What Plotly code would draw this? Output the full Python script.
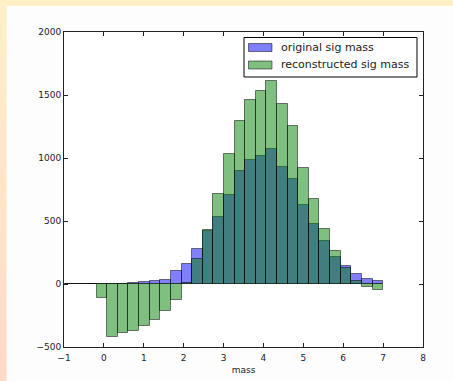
import numpy as np
import plotly.graph_objects as go

# ---- data ----
bin_edges = list(np.linspace(-0.98, 7.0, 31))
original_sig_mass = [1, 1, 1, 0, 0, 0, 5, 18, 26, 34, 103, 161,
                     275, 418, 534, 706, 899, 984, 1019, 1071, 931, 833,
                     624, 476, 344, 217, 140, 79, 42, 24]
reconstructed_sig_mass = [0, 0, 0, -114, -418, -389, -376, -333, -286, -212, -127, 8,
                          198, 429, 714, 1034, 1296, 1460, 1534, 1608, 1429, 1257,
                          921, 675, 437, 259, 124, 26, -21, -48]
series_names = ["original sig mass", "reconstructed sig mass"]
series_colors = ["rgba(0,0,255,0.5)", "rgba(0,128,0,0.5)"]
x_ticks = [-1, 0, 1, 2, 3, 4, 5, 6, 7, 8]
y_ticks = [-500, 0, 500, 1000, 1500, 2000]

centers = [(a + b) / 2 for a, b in zip(bin_edges[:-1], bin_edges[1:])]
widths = [b - a for a, b in zip(bin_edges[:-1], bin_edges[1:])]

W, H = 453, 381
L, R, T, B = 64, 423, 32, 347
EDGE = "rgba(0,0,0,0.5)"

fig = go.Figure()
for vals, name, col in zip([original_sig_mass, reconstructed_sig_mass], series_names, series_colors):
    fig.add_trace(go.Bar(x=centers, y=vals, width=widths, name=name,
                         marker=dict(color=col, line=dict(color=EDGE, width=1))))

def px2x(px):
    return (px - L) / (R - L)

def py2y(py):
    return (B - py) / (B - T)

shapes = []
# top band
shapes.append(dict(type="rect", xref="paper", yref="paper", x0=px2x(0), x1=px2x(W),
                   y0=py2y(6), y1=py2y(0), fillcolor="#fff0c6", line=dict(width=0), layer="below"))
# left gradient strip
n = 30
c0 = np.array([255, 240, 198])
c1 = np.array([255, 217, 202])
for i in range(n):
    y0p = 6 + (H - 6) * i / n
    y1p = 6 + (H - 6) * (i + 1) / n
    t = (i + 0.5) / n
    c = (c0 * (1 - t) + c1 * t).astype(int)
    shapes.append(dict(type="rect", xref="paper", yref="paper", x0=px2x(0), x1=px2x(6.5),
                       y0=py2y(y1p + 0.5), y1=py2y(y0p), fillcolor="rgb(%d,%d,%d)" % tuple(c),
                       line=dict(width=0), layer="below"))

# legend (drawn like matplotlib's)
annotations = []
shapes.append(dict(type="rect", xref="paper", yref="paper", x0=px2x(244), x1=px2x(417),
                   y0=py2y(77), y1=py2y(37.5), fillcolor="white",
                   line=dict(color="black", width=1), layer="above"))
row_y = [47.5, 65]
for yy, name, col in zip(row_y, series_names, series_colors):
    shapes.append(dict(type="rect", xref="paper", yref="paper", x0=px2x(248.5), x1=px2x(272),
                       y0=py2y(yy + 4), y1=py2y(yy - 4), fillcolor=col,
                       line=dict(color=EDGE, width=1), layer="above"))
    annotations.append(dict(xref="paper", yref="paper", x=px2x(279), y=py2y(yy),
                            xanchor="left", yanchor="middle", showarrow=False, text=name,
                            font=dict(family="DejaVu Sans", size=11, color="#222")))

axis_common = dict(showline=True, linecolor="#222", linewidth=1, mirror="allticks",
                   ticks="inside", ticklen=4, tickcolor="#222", showgrid=False,
                   zeroline=False, automargin=False,
                   tickfont=dict(family="DejaVu Sans", size=9, color="#222"))

fig.update_layout(
    width=W, height=H,
    margin=dict(l=L, r=W - R, t=T, b=H - B),
    paper_bgcolor="#fdfdfd", plot_bgcolor="#ffffff",
    barmode="overlay", bargap=0,
    font=dict(family="DejaVu Sans", size=9, color="#222"),
    xaxis=dict(range=[-1, 8], tickvals=x_ticks, ticklabelstandoff=2,
               title=dict(text="mass", font=dict(size=9), standoff=4), **axis_common),
    yaxis=dict(range=[-500, 2000], tickvals=y_ticks, **axis_common),
    shapes=shapes,
    annotations=annotations,
    showlegend=False,
)

fig.write_html("out.html")
